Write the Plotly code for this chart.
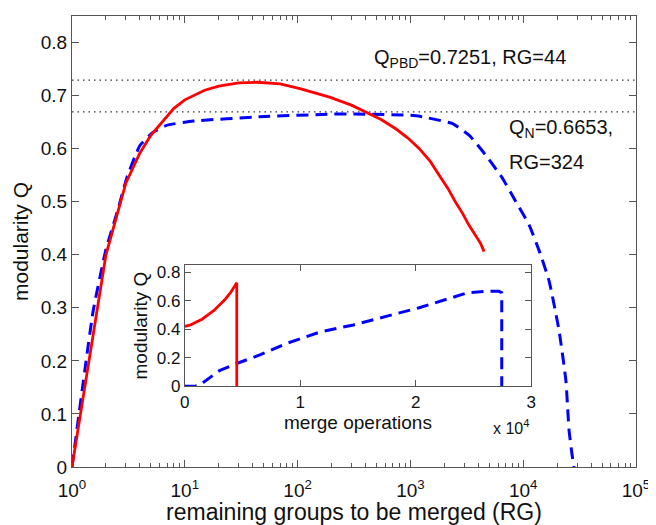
import plotly.graph_objects as go

# ---- main panel data (remaining groups RG vs modularity Q) ----
pbd_rg = [1, 2, 3, 4, 5, 6, 8, 10, 12, 15, 20, 30, 44, 70, 105, 192, 300, 405,
          550, 747, 950, 1200, 1500, 1800, 2150, 2500, 2900, 3300, 3900, 4200, 4500]
pbd_q = [0, 0.40, 0.535, 0.592, 0.625, 0.645, 0.676, 0.692, 0.700, 0.710, 0.718,
         0.724, 0.7251, 0.722, 0.713, 0.697, 0.682, 0.668, 0.655, 0.637, 0.620,
         0.600, 0.576, 0.550, 0.525, 0.500, 0.478, 0.456, 0.431, 0.421, 0.406]

n_rg = [1, 1.54, 2, 2.57, 3.05, 4.0, 5.25, 6.9, 11.9, 46, 192, 324, 1122, 2366,
        3328, 4680, 6560, 8610, 11300, 14000, 17000, 20800, 23900, 25500, 27000, 28200]
n_q = [0, 0.294, 0.41, 0.487, 0.544, 0.606, 0.631, 0.644, 0.652, 0.660, 0.665,
       0.6653, 0.662, 0.647, 0.625, 0.587, 0.544, 0.500, 0.456, 0.405, 0.350,
       0.257, 0.163, 0.069, 0.026, 0]

# ---- inset data (merge operations vs modularity Q) ----
pbd_m = [0, 500, 1000, 1500, 2000, 2500, 3000, 3500, 4000, 4500, 4500]
pbd_mq = [0.42, 0.43, 0.45, 0.47, 0.50, 0.53, 0.57, 0.61, 0.66, 0.725, 0]

n_m = [0, 800, 1300, 2000, 2500, 3000, 4500, 6500, 8800, 11700, 14600, 17500,
       20300, 22700, 24500, 26000, 27200, 27450, 27450]
n_mq = [0, 0, 0.01, 0.05, 0.08, 0.11, 0.16, 0.22, 0.30, 0.38, 0.43, 0.49, 0.55,
        0.61, 0.655, 0.665, 0.665, 0.655, 0]

# reference levels
q_pbd_max = 0.7251
q_n_max = 0.6653

x_tick_exp = [0, 1, 2, 3, 4, 5]
y_ticks = [0, 0.1, 0.2, 0.3, 0.4, 0.5, 0.6, 0.7, 0.8]
inset_x_ticks = [0, 10000, 20000, 30000]
inset_x_labels = ["0", "1", "2", "3"]
inset_y_ticks = [0, 0.2, 0.4, 0.6, 0.8]

FONT = "Liberation Sans, Arial, Helvetica, sans-serif"
RED = "#ff0000"
BLUE = "#0000ff"
AX = "#555555"
DASH = "12px,7px"

# the page body adds an 8px margin, so the figure is drawn 8px smaller
W, H = 648, 517
L, T, R, B = 64, 6, 19, 58
PW, PH = W - L - R, H - T - B


def px(x, y):
    """page pixel -> paper coordinates"""
    return (x - 8 - L) / PW, (H - B - (y - 8)) / PH


fig = go.Figure()

# dotted reference lines
for q in (q_pbd_max, q_n_max):
    fig.add_trace(go.Scatter(x=[1, 1e5], y=[q + 0.004, q + 0.004], mode="lines",
                             line=dict(color="#333", width=1.3, dash="1.5px,4px"),
                             xaxis="x", yaxis="y", showlegend=False, hoverinfo="skip"))

fig.add_trace(go.Scatter(x=n_rg, y=n_q, mode="lines",
                         line=dict(color=BLUE, width=3, dash=DASH, shape="spline", smoothing=0.4),
                         xaxis="x", yaxis="y", showlegend=False))
fig.add_trace(go.Scatter(x=pbd_rg, y=pbd_q, mode="lines",
                         line=dict(color=RED, width=2.8),
                         xaxis="x", yaxis="y", showlegend=False))

fig.add_trace(go.Scatter(x=n_m, y=n_mq, mode="lines",
                         line=dict(color=BLUE, width=3, dash=DASH),
                         xaxis="x2", yaxis="y2", showlegend=False))
fig.add_trace(go.Scatter(x=pbd_m, y=pbd_mq, mode="lines",
                         line=dict(color=RED, width=2.8),
                         xaxis="x2", yaxis="y2", showlegend=False))

minor_vals = [m * 10 ** e for e in range(0, 5) for m in range(2, 10)]

ix0, iy0 = px(185, 386)
ix1, iy1 = px(532, 264)

fig.update_layout(
    width=W, height=H,
    margin=dict(l=L, r=R, t=T, b=B),
    paper_bgcolor="white", plot_bgcolor="white",
    font=dict(family=FONT, size=19, color="#111"),
    xaxis=dict(type="log", range=[0, 5], domain=[0, 1],
               tickmode="array", tickvals=[10 ** e for e in x_tick_exp],
               ticktext=["10<sup>%d</sup>" % e for e in x_tick_exp],
               ticks="inside", ticklen=7, tickcolor=AX, tickwidth=1,
               ticklabelstandoff=6,
               minor=dict(tickmode="array", tickvals=minor_vals, ticks="inside",
                          ticklen=4, tickcolor=AX, showgrid=False),
               showline=True, linecolor=AX, linewidth=1, mirror="allticks",
               showgrid=False, zeroline=False,
               title=dict(text="remaining groups to be merged (RG)",
                          font=dict(size=23), standoff=0)),
    yaxis=dict(range=[0, 0.85], domain=[0, 1], tickvals=y_ticks,
               ticktext=["0" if v == 0 else "%g" % v for v in y_ticks],
               ticks="inside", ticklen=7, tickcolor=AX,
               showline=True, linecolor=AX, linewidth=1, mirror="allticks",
               showgrid=False, zeroline=False,
               title=dict(text="modularity Q", font=dict(size=21), standoff=6)),
    xaxis2=dict(range=[0, 30000], domain=[ix0, ix1], anchor="y2",
                tickmode="array", tickvals=inset_x_ticks, ticktext=inset_x_labels,
                ticks="inside", ticklen=6, tickcolor=AX,
                showline=True, linecolor=AX, linewidth=1, mirror="allticks",
                showgrid=False, zeroline=False, tickfont=dict(size=17),
                title=dict(text="merge operations", font=dict(size=19), standoff=2)),
    yaxis2=dict(range=[0, 0.85], domain=[iy0, iy1], anchor="x2",
                tickvals=inset_y_ticks,
                ticktext=["0" if v == 0 else "%g" % v for v in inset_y_ticks],
                ticks="inside", ticklen=6, tickcolor=AX,
                showline=True, linecolor=AX, linewidth=1, mirror="allticks",
                showgrid=False, zeroline=False, tickfont=dict(size=17),
                title=dict(text="modularity Q", font=dict(size=19), standoff=4)),
)

notes = [
    ("Q<sub>PBD</sub>=0.7251, RG=44", 373, 57, "left", 20),
    ("Q<sub>N</sub>=0.6653,", 508, 127, "left", 20),
    ("RG=324", 508, 161, "left", 20),
    ("x 10<sup>4</sup>", 512, 427, "center", 16),
]
for text, x, y, anchor, size in notes:
    ax_, ay_ = px(x, y)
    fig.add_annotation(text=text, xref="paper", yref="paper", x=ax_, y=ay_,
                       xanchor=anchor, yanchor="middle", showarrow=False,
                       font=dict(size=size))

fig.write_html("out.html")
